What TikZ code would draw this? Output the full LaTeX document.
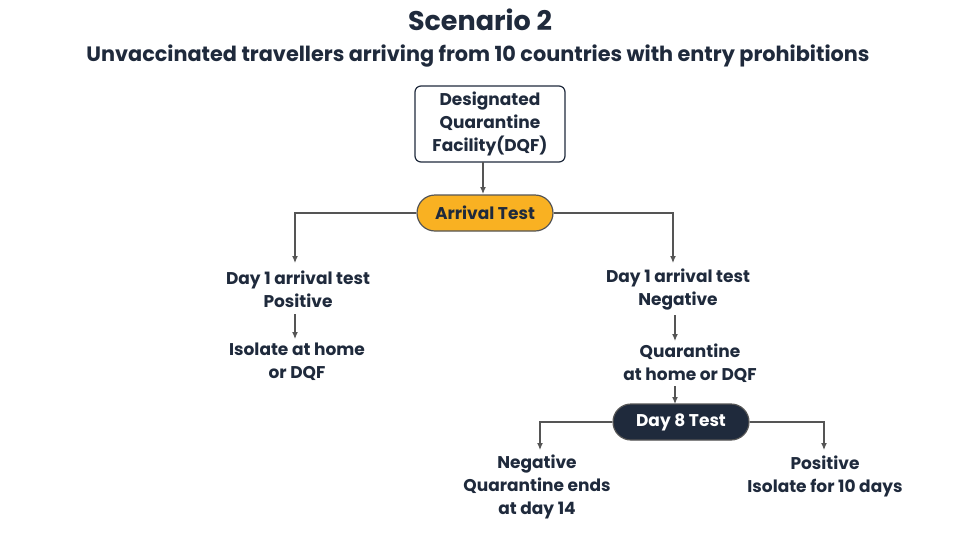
\documentclass[tikz,border=0pt]{standalone}
\usepackage{fontspec}
\setmainfont{Poppins}
\usetikzlibrary{arrows.meta}
\definecolor{navy}{HTML}{1F2A3C}
\definecolor{amber}{HTML}{F9B122}
\definecolor{wire}{HTML}{555555}
\begin{document}
\begin{tikzpicture}[x=0.5pt,y=-0.5pt,>={Latex[length=3.5pt,width=3pt]},
  every node/.style={font=\bfseries\fontsize{8.5}{11.5}\selectfont,text=navy,align=center,inner sep=1pt},
  link/.style={draw=wire,line width=0.6pt},
  pill/.style={draw=wire,rounded corners=9pt,minimum width=68pt,minimum height=18pt,line width=0.6pt}]
\useasboundingbox[fill=white] (0,0) rectangle (960,542);
%%
\node (title) at (480,20) {\fontsize{13.5}{15}\selectfont Scenario 2};
\node (sub) at (478,56) {\fontsize{10.4}{12}\selectfont Unvaccinated travellers arriving from 10 countries with entry prohibitions};
\node (dqf) at (490,124) [draw=navy,rounded corners=3pt,minimum width=75pt,minimum height=38pt,line width=0.6pt] {Designated\\Quarantine\\Facility(DQF)};
\node (arr) at (485,213) [pill,fill=amber] {Arrival Test};
\node (pos1) at (298,289) {Day 1 arrival test\\Positive};
\node (iso1) at (297,362) {Isolate at home\\or DQF};
\node (neg1) at (678,290) {Day 1 arrival test\\Negative};
\node (quar) at (690,363) {Quarantine\\at home or DQF};
\node (day8) at (681,422) [pill,fill=navy,text=white] {Day 8 Test};
\node (neg8) at (537,487) {Negative\\Quarantine ends\\at day 14};
\node (pos8) at (825,476) {Positive\\Isolate for 10 days};
%
\draw [link,->] (483,162) -- (483,194);
\draw [link,->] (arr.west) -| (295,263);
\draw [link,->] (arr.east) -| (673,263);
\draw [link,->] (295,314) -- (295,339);
\draw [link,->] (675,315) -- (675,341);
\draw [link,->] (675,386) -- (675,404);
\draw [link,->] (day8.west) -| (540,450);
\draw [link,->] (day8.east) -| (824,450);
%
\end{tikzpicture}
\end{document}
